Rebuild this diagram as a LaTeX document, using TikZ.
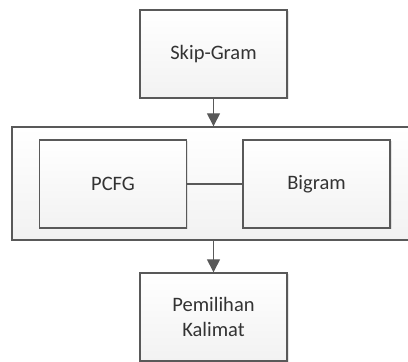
\documentclass[tikz,border=0pt]{standalone}
\usepackage{fontspec}
\setmainfont{Carlito}
\usepackage{tikz}
\usetikzlibrary{arrows.meta,shadows}
\definecolor{garis}{HTML}{595959}
\definecolor{isiatas}{HTML}{FFFFFF}
\definecolor{isibawah}{HTML}{F2F2F2}

\begin{document}
\begin{tikzpicture}[x=1pt, y=1pt,
		every node/.style={font=\fontsize{20.5}{25.5}\selectfont, text=black!80},
		kotak/.style={draw=garis, line width=1.4pt, top color=isiatas, bottom color=isibawah,
			drop shadow={shadow xshift=1.5pt, shadow yshift=-1.5pt, opacity=0.2},
			minimum width=147pt, minimum height=88pt, align=center, inner sep=0pt},
		panah/.style={draw=garis, line width=1.4pt, -{Triangle[width=13pt,length=13pt]}}]
		\useasboundingbox (0,0) rectangle (408,362);
		\node[kotak] (skip)at(213.5,308) {Skip-Gram};
		\node[kotak, minimum width=410pt, minimum height=113pt] (luar)at(217,178.5) {};
		\node[kotak] (pcfg)at(113,178) {PCFG};
		\node[kotak] (bigram)at(316.5,178) {Bigram};
		\node[kotak] (pilih)at(213.5,45) {Pemilihan\\Kalimat};
		\draw[draw=garis, line width=1.4pt] (pcfg) -- (bigram);
		\draw[panah] (skip.south) -- (skip.south |- luar.north);
		\draw[panah] (pilih.north |- luar.south) -- (pilih.north);
		\end{tikzpicture}
\end{document}
